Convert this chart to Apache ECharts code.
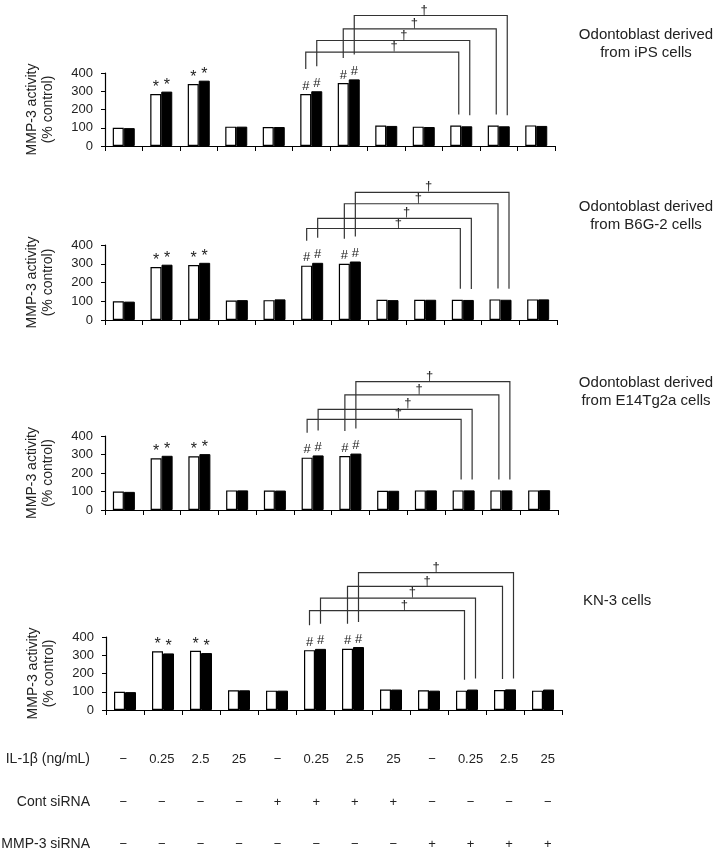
<!DOCTYPE html>
<html><head><meta charset="utf-8">
<script src="https://cdn.jsdelivr.net/npm/echarts@6/dist/echarts.min.js"></script>
<style>html,body{margin:0;padding:0;background:#fff}#c{width:720px;height:852px}</style>
</head><body><div id="c"></div>
<script>
// ---------- DATA ----------
const categories = ['G1','G2','G3','G4','G5','G6','G7','G8','G9','G10','G11','G12'];
const ilLabels   = ['−','0.25','2.5','25','−','0.25','2.5','25','−','0.25','2.5','25'];
const contLabels = ['−','−','−','−','+','+','+','+','−','−','−','−'];
const mmpLabels  = ['−','−','−','−','−','−','−','−','+','+','+','+'];
const rowTitles  = ['IL-1β (ng/mL)','Cont siRNA','MMP-3 siRNA'];
const panelTitles = ['Odontoblast derived\nfrom iPS cells','Odontoblast derived\nfrom B6G-2 cells','Odontoblast derived\nfrom E14Tg2a cells','KN-3 cells'];
const yTickValues = [0,100,200,300,400];
const yAxisName = 'MMP-3 activity\n(% control)';

const whiteP1 = [100,285,340,106,104,285,345,112,106,112,112,113];
const blackP1 = [ 98,298,358,106,104,300,365,110,104,108,108,110];
const whiteP2 = [100,283,293,104,106,290,300,108,108,108,110,110];
const blackP2 = [ 98,295,305,106,110,305,312,106,108,107,108,110];
const whiteP3 = [100,280,290,106,105,283,292,104,106,106,106,106];
const blackP3 = [ 98,293,302,106,105,295,305,104,106,106,106,107];
const whiteP4 = [100,322,325,108,106,328,335,112,108,106,110,106];
const blackP4 = [ 98,310,312,108,106,335,345,112,106,112,113,112];

const marksWhite = ['','*','*','','','#','#','','','','',''];
const marksBlack = ['','*','*','','','#','#','','','','',''];

// bracket: [leftCategory, leftBar(0 white / 1 black), rightCategory, rightBar]
const bracketPairs = [[5,0,9,0],[5,1,9,1],[6,0,10,0],[6,1,10,1]];
const bracketLevelsP1 = [514,578,642,715];
const bracketLevelsP2 = [488,542,620,681];
const bracketLevelsP3 = [490,544,622,694];
const bracketLevelsP4 = [545,613,677,753];
const daggerPosP1 = [7.21,7.47,7.75,8.01];
const daggerPosP2 = [7.29,7.51,7.82,8.09];
const daggerPosP3 = [7.27,7.52,7.82,8.10];
const daggerPosP4 = [7.35,7.56,7.95,8.19];

// ---------- LAYOUT / STYLE ----------
const FONT = '"Liberation Sans", Arial, sans-serif';
const TXT = '#222';
const BAR_W = 11;
const panels = [
  {white:whiteP1, black:blackP1, levels:bracketLevelsP1, daggers:daggerPosP1, grid:{left:105,top:73,width:450,height:73}, title:{x:646,y:26}},
  {white:whiteP2, black:blackP2, levels:bracketLevelsP2, daggers:daggerPosP2, grid:{left:105,top:245,width:452,height:75}, title:{x:646,y:198}},
  {white:whiteP3, black:blackP3, levels:bracketLevelsP3, daggers:daggerPosP3, grid:{left:105,top:436,width:453,height:74}, title:{x:646,y:374}},
  {white:whiteP4, black:blackP4, levels:bracketLevelsP4, daggers:daggerPosP4, grid:{left:106,top:637,width:456,height:73}, title:{x:583,y:592,align:'left'}}
];
const tableRows = [
  {labels:ilLabels, title:rowTitles[0], y:759},
  {labels:contLabels, title:rowTitles[1], y:802},
  {labels:mmpLabels, title:rowTitles[2], y:844}
];

const grid = [], xAxis = [], yAxis = [], series = [], graphic = [];

panels.forEach((p, k) => {
  grid.push(p.grid);
  xAxis.push({
    gridIndex:k, type:'category', data:categories,
    axisLine:{show:true, lineStyle:{color:'#000', width:1.2}},
    axisTick:{show:true, length:5, lineStyle:{color:'#000'}},
    axisLabel:{show:false}, splitLine:{show:false}
  });
  yAxis.push({
    gridIndex:k, type:'value', min:yTickValues[0], max:yTickValues[yTickValues.length-1], interval:100,
    axisLine:{show:true, lineStyle:{color:'#000', width:1.2}},
    axisTick:{show:true, length:4, lineStyle:{color:'#000'}},
    axisLabel:{fontSize:13, color:TXT, fontFamily:FONT, margin:12},
    splitLine:{show:false},
    name:yAxisName, nameLocation:'middle', nameRotate:90, nameGap:49,
    nameTextStyle:{fontSize:14, color:TXT, fontFamily:FONT, lineHeight:16, align:'center'}
  });
  const labelCfg = (marks) => ({
    show:true, position:'top', distance:1, color:TXT, fontFamily:FONT,
    formatter:(q) => {
      const m = marks[q.dataIndex];
      if (!m) return '';
      return m === '*' ? '{s|*}' : '{h|' + m + '}';
    },
    rich:{
      s:{fontSize:16, lineHeight:11, color:TXT, fontFamily:FONT},
      h:{fontSize:13, lineHeight:14, color:TXT, fontFamily:FONT}
    }
  });
  series.push({
    type:'bar', xAxisIndex:k, yAxisIndex:k, data:p.white, barWidth:BAR_W, barGap:'0%',
    itemStyle:{color:'#fff', borderColor:'#000', borderWidth:1.2},
    label:labelCfg(marksWhite), silent:true, animation:false
  });
  series.push({
    type:'bar', xAxisIndex:k, yAxisIndex:k, data:p.black, barWidth:BAR_W, barGap:'0%',
    itemStyle:{color:'#000', borderColor:'#000', borderWidth:1},
    label:labelCfg(marksBlack), silent:true, animation:false
  });
  series.push({
    type:'custom', xAxisIndex:k, yAxisIndex:k, clip:false, silent:true, animation:false, z:5,
    data: bracketPairs.map((b,i) => [b[0], p.levels[i]]),
    encode:{x:0, y:1},
    renderItem:(params, api) => {
      const i = params.dataIndex;
      const b = bracketPairs[i];
      const band = api.size([1,0])[0];
      const xOf = (cat, side) => api.coord([cat, 0])[0] + (side ? BAR_W/2 : -BAR_W/2);
      const yTop = api.coord([b[0], p.levels[i]])[1];
      const leftVal = (b[1] ? p.black : p.white)[b[0]];
      const rightVal = (b[3] ? p.black : p.white)[b[2]];
      const yL = api.coord([b[0], leftVal])[1] - 25;
      const yR = api.coord([b[2], rightVal])[1] - 11;
      const xL = xOf(b[0], b[1]);
      const xR = xOf(b[2], b[3]) + 3;
      const xD = api.coord([0, 0])[0] + p.daggers[i] * band;
      return {type:'group', children:[
        {type:'polyline', shape:{points:[[xL,yL],[xL,yTop],[xR,yTop],[xR,yR]]},
         style:{stroke:'#333', lineWidth:1.2, fill:null}},
        {type:'text', style:{text:'†', x:xD, y:yTop+1, align:'center', verticalAlign:'bottom',
         font:'13px ' + FONT, fill:TXT}}
      ]};
    }
  });
  graphic.push({
    type:'text', x:p.title.x, y:p.title.y,
    style:{text:panelTitles[k], font:'15px ' + FONT, fill:TXT, align:p.title.align || 'center',
           textAlign:p.title.align || 'center', verticalAlign:'top', lineHeight:18}
  });
});

tableRows.forEach((r, j) => {
  const gi = panels.length + j;
  grid.push({left:104, width:463, top:r.y - 1, height:1});
  xAxis.push({
    gridIndex:gi, type:'category', data:r.labels, position:'bottom',
    axisLine:{show:false}, axisTick:{show:false}, splitLine:{show:false},
    axisLabel:{interval:0, margin:0, verticalAlign:'middle', fontSize:13, color:TXT, fontFamily:FONT},
    name:r.title, nameLocation:'start', nameGap:14,
    nameTextStyle:{fontSize:14, color:TXT, fontFamily:FONT, verticalAlign:'middle', align:'right'}
  });
  yAxis.push({gridIndex:gi, type:'value', show:false});
});

const chart = echarts.init(document.getElementById('c'), null, {renderer:'canvas'});
chart.setOption({
  backgroundColor:'#fff', animation:false,
  textStyle:{fontFamily:FONT},
  grid, xAxis, yAxis, series, graphic
});
</script>
</body></html>
